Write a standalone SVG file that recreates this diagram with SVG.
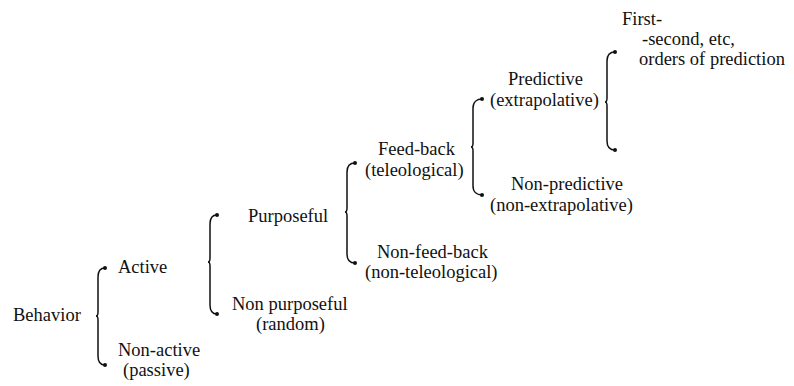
<svg xmlns="http://www.w3.org/2000/svg" width="794" height="386" viewBox="0 0 794 386">
<style>
text{font-family:'Liberation Serif','DejaVu Serif','Times New Roman',serif;font-size:18.5px;fill:#111}
.brace{fill:none;stroke:#111;stroke-width:1.5;stroke-linecap:round;marker-start:url(#tip);marker-end:url(#tip)}
</style>
<defs>
<marker id="tip" viewBox="-3 -3 6 6" markerWidth="6" markerHeight="6" markerUnits="userSpaceOnUse" refX="0" refY="0" orient="auto">
<circle cx="0" cy="0" r="2" fill="#111"/>
</marker>
</defs>
<rect width="794" height="386" fill="#fff"/>
<g id="braces">
<path class="brace" d="M105,268 C100,268 98,271 98,277 L98,312 Q98,316 96,316 Q98,316 98,320 L98,356 C98,362 100,365 105,365"/>
<path class="brace" d="M217,215 C212,215 210,218 210,224 L210,258 Q210,262 208,262 Q210,262 210,266 L210,305 C210,311 212,314 217,314"/>
<path class="brace" d="M355,163 C350,163 347,166 347,172 L347,208 Q347,212 345,212 Q347,212 347,216 L347,254 C347,260 350,263 355,263"/>
<path class="brace" d="M482,99 C477,99 473,102 473,108 L473,143 Q473,147 471,147 Q473,147 473,151 L473,186 C473,192 477,195 482,195"/>
<path class="brace" d="M615,52 C610,52 607,55 607,61 L607,98 Q607,102 605,102 Q607,102 607,106 L607,141 C607,147 610,150 615,150"/>
</g>
<g id="behavior"><text x="13" y="321">Behavior</text></g>
<g id="active"><text x="118" y="273">Active</text></g>
<g id="non-active"><text x="118" y="356">Non-active</text><text x="123" y="376">(passive)</text></g>
<g id="purposeful"><text x="248" y="222">Purposeful</text></g>
<g id="non-purposeful"><text x="232" y="310">Non purposeful</text><text x="256" y="330">(random)</text></g>
<g id="feed-back"><text x="378" y="155">Feed-back</text><text x="365" y="176">(teleological)</text></g>
<g id="non-feed-back"><text x="377" y="258">Non-feed-back</text><text x="365" y="278">(non-teleological)</text></g>
<g id="predictive"><text x="508" y="85">Predictive</text><text x="490" y="106">(extrapolative)</text></g>
<g id="non-predictive"><text x="511" y="190">Non-predictive</text><text x="490" y="211">(non-extrapolative)</text></g>
<g id="orders"><text x="622" y="25">First-</text><text x="642" y="45">-second, etc,</text><text x="639" y="65">orders of prediction</text></g>
</svg>
